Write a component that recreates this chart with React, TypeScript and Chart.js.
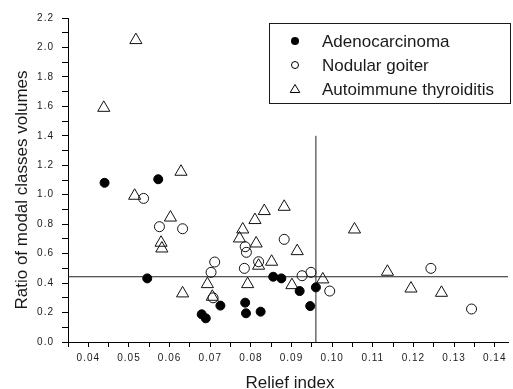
import React, { useEffect, useRef } from 'react';
import { Chart, registerables } from 'chart.js';

Chart.register(...registerables);

// ---- data ----
const ADENO_X = [0.0440, 0.0572, 0.0545, 0.0725, 0.0679, 0.0689, 0.0786, 0.0788, 0.0824, 0.0855, 0.0875, 0.0920, 0.0960, 0.0946];
const ADENO_Y = [1.081, 1.105, 0.432, 0.247, 0.188, 0.161, 0.267, 0.195, 0.206, 0.443, 0.432, 0.346, 0.371, 0.244];

const GOITER_X = [0.0536, 0.0575, 0.0632, 0.0786, 0.0789, 0.0711, 0.0702, 0.0784, 0.0707, 0.0819, 0.0882, 0.0926, 0.0948, 0.0994, 0.1243, 0.1343];
const GOITER_Y = [0.975, 0.783, 0.769, 0.647, 0.609, 0.543, 0.473, 0.500, 0.300, 0.545, 0.697, 0.450, 0.473, 0.346, 0.500, 0.224];

const THYR_X = [0.0517, 0.0438, 0.0628, 0.0514, 0.0602, 0.0579, 0.0581, 0.0632, 0.0833, 0.0882, 0.0810, 0.0780, 0.0772, 0.0813, 0.0819, 0.0851, 0.0693, 0.0792, 0.0705, 0.1055, 0.0914, 0.0901, 0.0977, 0.1136, 0.1194, 0.1269];
const THYR_Y = [2.050, 1.590, 1.156, 0.993, 0.845, 0.674, 0.635, 0.330, 0.889, 0.918, 0.828, 0.764, 0.703, 0.669, 0.518, 0.545, 0.393, 0.393, 0.307, 0.764, 0.617, 0.386, 0.425, 0.477, 0.363, 0.334];

const SERIES_NAMES = ['Adenocarcinoma', 'Nodular goiter', 'Autoimmune thyroiditis'];

const REF_X = 0.096;
const REF_X_TOP = 1.4;
const REF_Y = 0.443;

const X_MIN = 0.035;
const X_MAX = 0.14327;
const Y_MIN = 0;
const Y_MAX = 2.2;

const X_MAJOR_TICKS = [0.04, 0.05, 0.06, 0.07, 0.08, 0.09, 0.10, 0.11, 0.12, 0.13, 0.14];
const X_TICK_LABELS = ['0.04', '0.05', '0.06', '0.07', '0.08', '0.09', '0.10', '0.11', '0.12', '0.13', '0.14'];
const X_MINOR_TICKS = [0.035, 0.045, 0.055, 0.065, 0.075, 0.085, 0.095, 0.105, 0.115, 0.125, 0.135];

const Y_MAJOR_TICKS = [0.0, 0.2, 0.4, 0.6, 0.8, 1.0, 1.2, 1.4, 1.6, 1.8, 2.0, 2.2];
const Y_TICK_LABELS = ['0.0', '0.2', '0.4', '0.6', '0.8', '1.0', '1.2', '1.4', '1.6', '1.8', '2.0', '2.2'];
const Y_MINOR_TICKS = [0.1, 0.3, 0.5, 0.7, 0.9, 1.1, 1.3, 1.5, 1.7, 1.9, 2.1];

const X_TITLE = 'Relief index';
const Y_TITLE = 'Ratio of modal classes volumes';

const FONT = "'Liberation Sans', Arial, sans-serif";
const INK = '#1a1a1a';

function zip(xs: number[], ys: number[]) {
  return xs.map((x, i) => ({ x, y: ys[i] }));
}

function labelFor(value: number, majors: number[], labels: string[]) {
  const idx = majors.findIndex((m) => Math.abs(m - value) < 1e-9);
  return idx >= 0 ? labels[idx] : '';
}

const overlayPlugin = {
  id: 'overlay',
  beforeDraw(chart: any) {
    chart.ctx.letterSpacing = '1px';
  },
  afterDraw(chart: any) {
    const ctx = chart.ctx as CanvasRenderingContext2D;
    const area = chart.chartArea;
    ctx.save();
    (ctx as any).letterSpacing = '0px';
    ctx.fillStyle = INK;
    ctx.font = `17px ${FONT}`;
    // x title
    ctx.textAlign = 'center';
    ctx.textBaseline = 'alphabetic';
    ctx.fillText(X_TITLE, (area.left + area.right) / 2 + 2, 388);
    // y title
    ctx.save();
    ctx.translate(27, 190);
    ctx.rotate(-Math.PI / 2);
    ctx.fillText(Y_TITLE, 0, 0);
    ctx.restore();

    // legend
    const bx = 269.5, by = 23.5, bw = 241, bh = 80;
    ctx.fillStyle = '#fff';
    ctx.fillRect(bx, by, bw, bh);
    ctx.strokeStyle = INK;
    ctx.lineWidth = 1;
    ctx.strokeRect(bx, by, bw, bh);
    const rows = [41, 65, 89];
    const mx = 295;
    // filled circle
    ctx.fillStyle = '#000';
    ctx.beginPath();
    ctx.arc(mx, rows[0], 4, 0, Math.PI * 2);
    ctx.fill();
    // open circle
    ctx.beginPath();
    ctx.arc(mx, rows[1], 3.5, 0, Math.PI * 2);
    ctx.strokeStyle = '#000';
    ctx.stroke();
    // triangle
    ctx.beginPath();
    ctx.moveTo(mx, rows[2] - 4.5);
    ctx.lineTo(mx + 4.8, rows[2] + 3.5);
    ctx.lineTo(mx - 4.8, rows[2] + 3.5);
    ctx.closePath();
    ctx.stroke();
    ctx.fillStyle = INK;
    ctx.textAlign = 'left';
    ctx.textBaseline = 'middle';
    SERIES_NAMES.forEach((name, i) => {
      ctx.fillText(name, 322, rows[i] + 1);
    });
    ctx.restore();
  },
};

export default function App() {
  const canvasRef = useRef<HTMLCanvasElement | null>(null);

  useEffect(() => {
    const canvas = canvasRef.current;
    if (!canvas) return;
    const chart = new Chart(canvas, {
      type: 'scatter',
      data: {
        datasets: [
          {
            label: SERIES_NAMES[0],
            data: zip(ADENO_X, ADENO_Y),
            pointStyle: 'circle',
            pointRadius: 4.5,
            backgroundColor: '#000',
            borderColor: '#000',
            borderWidth: 1,
            order: 1,
          },
          {
            label: SERIES_NAMES[1],
            data: zip(GOITER_X, GOITER_Y),
            pointStyle: 'circle',
            pointRadius: 5,
            backgroundColor: 'rgba(255,255,255,0)',
            borderColor: '#111',
            borderWidth: 1,
            order: 1,
          },
          {
            label: SERIES_NAMES[2],
            data: zip(THYR_X, THYR_Y),
            pointStyle: 'triangle',
            pointRadius: 7,
            backgroundColor: 'rgba(255,255,255,0)',
            borderColor: '#111',
            borderWidth: 1,
            order: 1,
          },
          {
            label: 'vline',
            data: [
              { x: REF_X, y: Y_MIN },
              { x: REF_X, y: REF_X_TOP },
            ],
            showLine: true,
            pointRadius: 0,
            borderColor: '#222',
            borderWidth: 1,
            order: 5,
          },
          {
            label: 'hline',
            data: [
              { x: X_MIN, y: REF_Y },
              { x: X_MAX, y: REF_Y },
            ],
            showLine: true,
            pointRadius: 0,
            borderColor: '#222',
            borderWidth: 1,
            order: 5,
          },
        ],
      },
      options: {
        animation: false,
        responsive: false,
        devicePixelRatio: 1,
        layout: { padding: { top: 18, left: 0, right: 0, bottom: 0 } },
        plugins: {
          legend: { display: false },
          tooltip: { enabled: false },
        },
        scales: {
          x: {
            type: 'linear',
            min: X_MIN,
            max: X_MAX,
            afterBuildTicks: (scale: any) => {
              scale.ticks = [...X_MINOR_TICKS, ...X_MAJOR_TICKS]
                .sort((a, b) => a - b)
                .map((v) => ({ value: v }));
            },
            afterFit: (scale: any) => {
              scale.height = 47;
            },
            ticks: {
              autoSkip: false,
              maxRotation: 0,
              padding: 5,
              color: INK,
              font: { family: FONT, size: 10 },
              callback: (value: any) => labelFor(Number(value), X_MAJOR_TICKS, X_TICK_LABELS),
            },
            grid: { drawOnChartArea: false, drawTicks: true, tickLength: 5, color: '#000' },
            border: { display: true, color: '#000', width: 1 },
          },
          y: {
            type: 'linear',
            min: Y_MIN,
            max: Y_MAX,
            afterBuildTicks: (scale: any) => {
              scale.ticks = [...Y_MINOR_TICKS, ...Y_MAJOR_TICKS]
                .sort((a, b) => a - b)
                .map((v) => ({ value: v }));
            },
            afterFit: (scale: any) => {
              scale.width = 68;
            },
            ticks: {
              autoSkip: false,
              padding: 8,
              color: INK,
              font: { family: FONT, size: 10 },
              callback: (value: any) => labelFor(Number(value), Y_MAJOR_TICKS, Y_TICK_LABELS),
            },
            grid: { drawOnChartArea: false, drawTicks: true, tickLength: 6, color: '#000' },
            border: { display: true, color: '#000', width: 1 },
          },
        },
      },
      plugins: [overlayPlugin],
    } as any);
    return () => chart.destroy();
  }, []);

  return (
    <div style={{ position: 'absolute', left: 0, top: 0, width: 513, height: 389, overflow: 'hidden', background: '#fff' }}>
      <canvas ref={canvasRef} width={516} height={389} style={{ display: 'block' }} />
    </div>
  );
}
